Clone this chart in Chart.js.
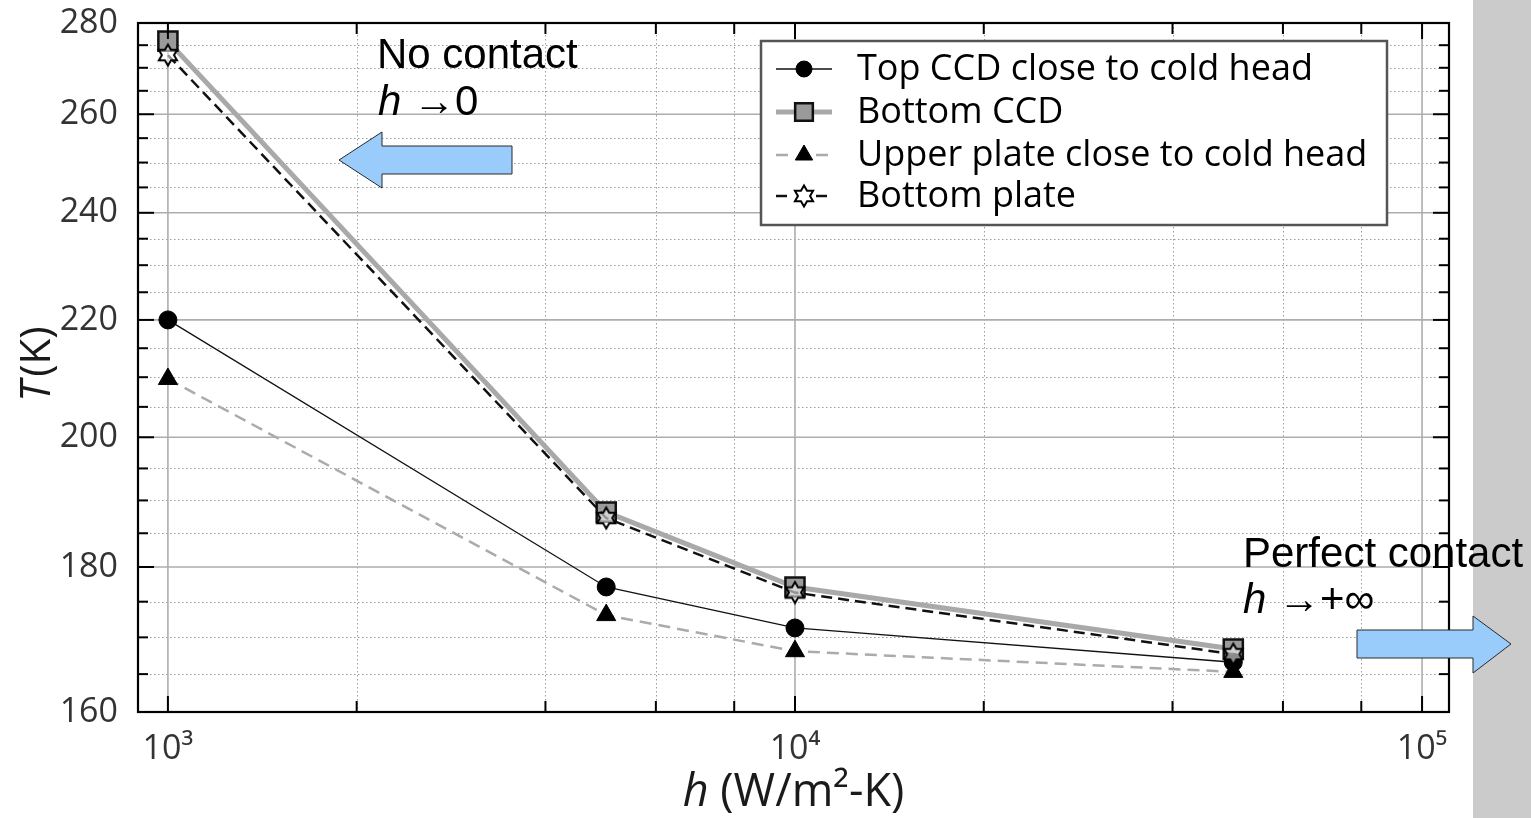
<!DOCTYPE html>
<html>
<head>
<meta charset="utf-8">
<script src="https://cdn.jsdelivr.net/npm/chart.js@4.4.1/dist/chart.umd.min.js"></script>
<style>
  html, body { margin: 0; padding: 0; background: #fff; }
  canvas { display: block; }
</style>
</head>
<body>
<canvas id="myChart" width="1531" height="818"></canvas>
<script>
// values
const hValues = [1000, 5000, 10000, 50000];
const topCCD = [220.0, 177.1, 171.3, 166.6];
const bottomCCD = [275.9, 188.2, 177.1, 168.4];
const upperPlate = [209.7, 173.1, 168.1, 165.3];
const bottomPlate = [272.8, 187.3, 176.3, 167.7];
const seriesNames = ['Top CCD close to cold head', 'Bottom CCD', 'Upper plate close to cold head', 'Bottom plate'];

const xTicks = [1000, 10000, 100000];
const xTickLabels = ['10³', '10⁴', '10⁵'];
const xMinor = [2000, 4000, 6000, 8000, 20000, 40000, 60000, 80000];
const yTicks = [160, 180, 200, 220, 240, 260, 280];
const yMinor = [165, 170, 175, 185, 190, 195, 205, 210, 215, 225, 230, 235, 245, 250, 255, 265, 270, 275];

// hollow six pointed star marker
function makeStar() {
  const c = document.createElement('canvas');
  c.width = 26; c.height = 26;
  const g = c.getContext('2d');
  const R = 10.5, r = R / Math.sqrt(3);
  g.beginPath();
  for (let i = 0; i < 12; i++) {
    const rad = i % 2 === 0 ? R : r;
    const ang = -Math.PI / 2 + i * Math.PI / 6;
    const px = 13 + rad * Math.cos(ang), py = 13 + rad * Math.sin(ang);
    i === 0 ? g.moveTo(px, py) : g.lineTo(px, py);
  }
  g.closePath();
  g.fillStyle = 'rgba(255,255,255,0.55)';
  g.fill();
  g.lineWidth = 2;
  g.strokeStyle = '#000';
  g.stroke();
  return c;
}
const starImg = makeStar();

const toXY = (vals) => vals.map((v, i) => ({ x: hValues[i], y: v }));

const datasets = [
  {
    label: seriesNames[0], data: toXY(topCCD), order: 1,
    borderColor: '#111', borderWidth: 1.3,
    pointStyle: 'circle', pointRadius: 9, pointBackgroundColor: '#000', pointBorderColor: '#000', pointBorderWidth: 1
  },
  {
    label: seriesNames[1], data: toXY(bottomCCD), order: 2,
    borderColor: '#a9a9a9', borderWidth: 5,
    pointStyle: 'rect', pointRadius: 13.5, pointBackgroundColor: '#9a9a9a', pointBorderColor: '#111', pointBorderWidth: 2.5
  },
  {
    label: seriesNames[2], data: toXY(upperPlate), order: 3,
    borderColor: '#ababab', borderWidth: 2.5, borderDash: [12, 7],
    pointStyle: 'triangle', pointRadius: 11, pointBackgroundColor: '#000', pointBorderColor: '#000', pointBorderWidth: 1
  },
  {
    label: seriesNames[3], data: toXY(bottomPlate), order: 0,
    borderColor: '#111', borderWidth: 2.5, borderDash: [11, 6],
    pointStyle: starImg, pointRadius: 11, pointBackgroundColor: '#fff', pointBorderColor: '#000', pointBorderWidth: 2
  }
];

function seg(ctx, x1, y1, x2, y2) {
  ctx.beginPath(); ctx.moveTo(x1, y1); ctx.lineTo(x2, y2); ctx.stroke();
}

function arrow(ctx, pts) {
  ctx.beginPath();
  pts.forEach((p, i) => i ? ctx.lineTo(p[0], p[1]) : ctx.moveTo(p[0], p[1]));
  ctx.closePath();
  ctx.fillStyle = '#99cbfb';
  ctx.fill();
  ctx.lineWidth = 1;
  ctx.strokeStyle = '#2a2a2a';
  ctx.stroke();
}

const decorations = {
  id: 'decorations',
  beforeDraw(chart) {
    const ctx = chart.ctx;
    ctx.save();
    ctx.fillStyle = '#fff';
    ctx.fillRect(0, 0, chart.width, chart.height);
    ctx.fillStyle = '#cbcbcb';
    ctx.fillRect(1473, 0, chart.width - 1473, chart.height);
    ctx.restore();
  },
  beforeDatasetsDraw(chart) {
    const { ctx, chartArea: a, scales: { x, y } } = chart;
    ctx.save();
    // dotted minor grid
    ctx.lineWidth = 1;
    ctx.strokeStyle = '#9c9c9c';
    ctx.setLineDash([1.5, 2.5]);
    xMinor.forEach(v => { const p = Math.round(x.getPixelForValue(v)) + 0.5; seg(ctx, p, a.top, p, a.bottom); });
    yMinor.forEach(v => { const p = Math.round(y.getPixelForValue(v)) + 0.5; seg(ctx, a.left, p, a.right, p); });
    // solid major grid
    ctx.setLineDash([]);
    ctx.lineWidth = 1.6;
    ctx.strokeStyle = '#adadad';
    xTicks.forEach(v => { const p = x.getPixelForValue(v); seg(ctx, p, a.top, p, a.bottom); });
    yTicks.forEach(v => { const p = y.getPixelForValue(v); seg(ctx, a.left, p, a.right, p); });
    ctx.restore();
  },
  afterDatasetsDraw(chart) {
    const { ctx, chartArea: a, scales: { x, y } } = chart;
    ctx.save();
    ctx.strokeStyle = '#000';
    ctx.lineWidth = 2;
    // inward ticks on all four sides
    xTicks.forEach(v => { const p = x.getPixelForValue(v); seg(ctx, p, a.bottom, p, a.bottom - 16); seg(ctx, p, a.top, p, a.top + 16); });
    xMinor.forEach(v => { const p = x.getPixelForValue(v); seg(ctx, p, a.bottom, p, a.bottom - 11); seg(ctx, p, a.top, p, a.top + 11); });
    yTicks.forEach(v => { const p = y.getPixelForValue(v); seg(ctx, a.left, p, a.left + 16, p); seg(ctx, a.right, p, a.right - 16, p); });
    yMinor.forEach(v => { const p = y.getPixelForValue(v); seg(ctx, a.left, p, a.left + 10, p); seg(ctx, a.right, p, a.right - 10, p); });
    ctx.lineWidth = 2.2;
    ctx.strokeRect(a.left, a.top, a.right - a.left, a.bottom - a.top);
    ctx.restore();
  },
  afterDraw(chart) {
    const { ctx, chartArea: a } = chart;
    ctx.save();

    // legend
    ctx.fillStyle = '#fff';
    ctx.fillRect(761, 41, 626, 184);
    ctx.lineWidth = 2.5;
    ctx.strokeStyle = '#555';
    ctx.strokeRect(761, 41, 626, 184);
    const rows = [69, 112, 155, 196];
    chart.data.datasets.forEach((ds, i) => {
      const cy = rows[i];
      ctx.save();
      ctx.strokeStyle = ds.borderColor;
      ctx.lineWidth = ds.borderWidth;
      ctx.setLineDash(ds.borderDash || []);
      if (ds.borderDash) {
        seg(ctx, 776, cy, 792, cy);
        seg(ctx, 816, cy, 832, cy);
      } else {
        seg(ctx, 776, cy, 832, cy);
      }
      ctx.setLineDash([]);
      ctx.fillStyle = ds.pointBackgroundColor;
      ctx.strokeStyle = ds.pointBorderColor;
      ctx.lineWidth = ds.pointBorderWidth;
      Chart.helpers.drawPoint(ctx, {
        pointStyle: ds.pointStyle,
        radius: ds.pointStyle === 'rect' ? 12.5 : (ds.pointStyle === 'circle' ? 8 : 10),
        rotation: 0,
        borderWidth: ds.pointBorderWidth
      }, 804, cy);
      ctx.restore();
      ctx.fillStyle = '#000';
      ctx.font = '36px "Open Sans", "DejaVu Sans", sans-serif';
      ctx.textBaseline = 'middle';
      ctx.textAlign = 'left';
      ctx.fillText(ds.label, 857, cy + 1);
    });

    // axis titles
    ctx.fillStyle = '#1a1a1a';
    ctx.textBaseline = 'alphabetic';
    let italic = 'italic 45px "Open Sans", "DejaVu Sans", sans-serif';
    let upright = '45px "Open Sans", "DejaVu Sans", sans-serif';
    let w1, w2, cx;
    ctx.font = italic; w1 = ctx.measureText('h').width;
    ctx.font = upright; w2 = ctx.measureText(' (W/m²-K)').width;
    cx = (a.left + a.right) / 2 - (w1 + w2) / 2;
    ctx.font = italic; ctx.fillText('h', cx, 806);
    ctx.font = upright; ctx.fillText(' (W/m²-K)', cx + w1, 806);

    italic = 'italic 42px "Open Sans", "DejaVu Sans", sans-serif';
    upright = '42px "Open Sans", "DejaVu Sans", sans-serif';
    ctx.save();
    ctx.translate(50, 364);
    ctx.rotate(-Math.PI / 2);
    ctx.font = italic; w1 = ctx.measureText('T').width;
    ctx.font = upright; w2 = ctx.measureText('(K)').width;
    cx = -(w1 + w2 + 4) / 2;
    ctx.font = italic; ctx.fillText('T', cx, 0);
    ctx.font = upright; ctx.fillText('(K)', cx + w1 + 4, 0);
    ctx.restore();

    // annotations
    arrow(ctx, [[339, 160], [382, 132], [382, 146], [512, 146], [512, 174], [382, 174], [382, 188]]);
    arrow(ctx, [[1511, 644], [1473, 616], [1473, 630], [1357, 630], [1357, 658], [1473, 658], [1473, 673]]);

    ctx.fillStyle = '#000';
    const ann = '42px "Liberation Sans", Arial, sans-serif';
    const annI = 'italic 42px "Liberation Sans", Arial, sans-serif';
    ctx.font = ann;
    ctx.fillText('No contact', 377, 68);
    ctx.font = annI; ctx.fillText('h', 378, 115);
    let hw = ctx.measureText('h').width;
    ctx.font = ann; ctx.fillText(' →0', 378 + hw, 115);

    ctx.font = ann;
    ctx.fillText('Perfect contact', 1243, 567);
    ctx.font = annI; ctx.fillText('h', 1243, 613);
    hw = ctx.measureText('h').width;
    ctx.font = ann; ctx.fillText(' →+∞', 1243 + hw, 613);

    ctx.restore();
  }
};

const ctx = document.getElementById('myChart');

new Chart(ctx, {
  type: 'line',
  data: { datasets: datasets },
  plugins: [decorations],
  options: {
    responsive: false,
    animation: false,
    devicePixelRatio: 1,
    layout: { padding: { left: 38, right: 82, top: 23, bottom: 0 } },
    elements: { line: { tension: 0, fill: false } },
    datasets: { line: { clip: false } },
    plugins: { legend: { display: false }, tooltip: { enabled: false } },
    scales: {
      x: {
        type: 'logarithmic',
        min: 896,
        max: 110400,
        afterBuildTicks: (s) => { s.ticks = xTicks.map(v => ({ value: v })); },
        afterFit: (s) => { s.height = 106; s.paddingLeft = 0; s.paddingRight = 0; },
        grid: { display: false },
        border: { display: false },
        ticks: {
          autoSkip: false,
          maxRotation: 0,
          padding: 9,
          color: '#333',
          font: { family: '"Open Sans", "DejaVu Sans", sans-serif', size: 34 },
          callback: (v) => xTickLabels[xTicks.indexOf(v)] || ''
        }
      },
      y: {
        type: 'logarithmic',
        min: 160,
        max: 280,
        afterBuildTicks: (s) => { s.ticks = yTicks.map(v => ({ value: v })); },
        afterFit: (s) => { s.width = 100; s.paddingTop = 0; s.paddingBottom = 0; },
        grid: { display: false },
        border: { display: false },
        ticks: {
          autoSkip: false,
          padding: 12,
          color: '#333',
          font: { family: '"Open Sans", "DejaVu Sans", sans-serif', size: 34 },
          callback: (v) => String(v)
        }
      }
    }
  }
});
</script>
</body>
</html>
